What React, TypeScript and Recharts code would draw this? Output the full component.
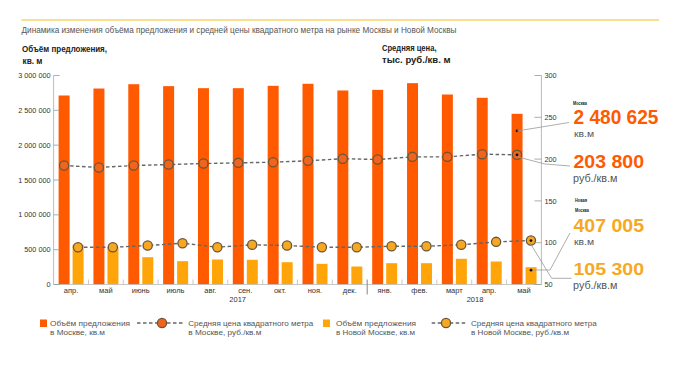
import React from 'react';
import { ComposedChart, Bar, Line, XAxis, YAxis } from 'recharts';

const months = ['апр.', 'май', 'июнь', 'июль', 'авг.', 'сен.', 'окт.', 'ноя.', 'дек.', 'янв.', 'фев.', 'март', 'апр.', 'май'];
const moscowSupply = [2713000, 2813000, 2875000, 2847000, 2818000, 2818000, 2852000, 2881000, 2785000, 2794000, 2890000, 2727000, 2680000, 2450000];
const newMoscowSupply = [570000, 540000, 392000, 335000, 359000, 355000, 320000, 297000, 258000, 306000, 306000, 369000, 330000, 248000];
const moscowPrice = [192.3, 190.0, 192.3, 193.5, 194.7, 195.5, 196.3, 198.0, 200.5, 199.5, 202.7, 202.7, 205.9, 205.1];
const newMoscowPrice = [94.6, 94.6, 96.6, 99.4, 94.6, 97.5, 96.6, 94.6, 94.6, 95.8, 95.8, 97.5, 101.0, 102.6];
const leftTicks = [0, 500000, 1000000, 1500000, 2000000, 2500000, 3000000];
const rightTicks = [50, 100, 150, 200, 250, 300];
const years = ['2017', '2018'];

const data = months.map((m, i) => ({
  m,
  i,
  ms: moscowSupply[i],
  ns: newMoscowSupply[i],
  mp: moscowPrice[i],
  np: newMoscowPrice[i],
}));

const ORANGE = '#ff5a00';
const YELLOW = '#ffa50a';
const M_DOT = '#f0641e';
const N_DOT = '#f7a823';
const DOT_STROKE = '#6b5638';
const FONT = '"Liberation Sans", Arial, sans-serif';
const LAST = data.length - 1;

const fmt = (v: number) => String(v).replace(/\B(?=(\d{3})+(?!\d))/g, ' ');

const makeDot = (fill: string) => (props: any) => {
  const { cx, cy, index } = props;
  if (cx == null || cy == null) return <g key={`e${index}`} />;
  return (
    <g key={`d${index}`}>
      <circle cx={cx} cy={cy} r={4.6} fill={fill} stroke={DOT_STROKE} strokeWidth={1.3} />
      {index === LAST && <circle cx={cx} cy={cy} r={1.4} fill="#111" />}
    </g>
  );
};

const makeBarShape = (fill: string, dotOffset: number) => (props: any) => {
  const { x, y, width, height, index } = props;
  return (
    <g>
      <rect x={x} y={y} width={width} height={height} fill={fill} />
      {index === LAST && <circle cx={x + width / 2} cy={y + dotOffset} r={1.4} fill="#111" />}
    </g>
  );
};

const LeftTick = (props: any) => {
  const { x, y, payload } = props;
  return (
    <g>
      <line x1={x + 3} x2={x + 9} y1={y} y2={y} stroke="#999" strokeWidth={0.8} />
      <text x={x} y={y} dy={2.6} textAnchor="end" fontSize={7.3} fill="#333" fontFamily={FONT}>
        {fmt(payload.value)}
      </text>
    </g>
  );
};

const RightTick = (props: any) => {
  const { x, y, payload } = props;
  return (
    <g>
      <line x1={x - 10} x2={x - 3} y1={y} y2={y} stroke="#999" strokeWidth={0.8} />
      <text x={x} y={y} dy={2.6} textAnchor="start" fontSize={7.3} fill="#333" fontFamily={FONT}>
        {payload.value}
      </text>
    </g>
  );
};

const MonthTick = (props: any) => {
  const { x, y, payload, index } = props;
  const half = payload && payload.offset ? payload.offset : 17.4;
  const idx = payload && payload.index != null ? payload.index : index;
  return (
    <g>
      {idx > 0 && (
        <line
          x1={x - half}
          x2={x - half}
          y1={y - 5}
          y2={idx === 9 ? y + 10 : y}
          stroke={idx === 9 ? '#777' : '#bbb'}
          strokeWidth={idx === 9 ? 0.9 : 0.8}
        />
      )}
      <text x={x} y={y + 8.5} textAnchor="middle" fontSize={7.5} fill="#333" fontFamily={FONT}>
        {payload.value}
      </text>
    </g>
  );
};

const T = (p: any) => <text fontFamily={FONT} {...p} />;

export default function App() {
  return (
    <div style={{ position: 'absolute', left: 0, top: 0, width: 700, height: 374, background: '#fff' }}>
      <div style={{ position: 'absolute', left: 0, top: 0 }}>
        <ComposedChart
          width={700}
          height={374}
          data={data}
          margin={{ top: 75.5, left: 3.6, right: 118.6, bottom: 69.5 }}
          barSize={11}
          barGap={3}
        >
          <XAxis
            xAxisId="cat"
            dataKey="m"
            height={20}
            tickSize={0}
            tickMargin={0}
            tickLine={false}
            interval={0}
            axisLine={{ stroke: '#bbb', strokeWidth: 0.8 }}
            tick={<MonthTick />}
          />
          <XAxis xAxisId="mline" type="number" dataKey="i" domain={[-0.3, 13.7]} allowDataOverflow hide />
          <XAxis xAxisId="nline" type="number" dataKey="i" domain={[-0.7, 13.3]} allowDataOverflow hide />
          <YAxis
            yAxisId="left"
            width={50}
            domain={[0, 3000000]}
            ticks={leftTicks}
            interval={0}
            tickSize={0}
            tickMargin={3}
            tickLine={false}
            axisLine={{ stroke: '#aaa', strokeWidth: 0.8 }}
            tick={<LeftTick />}
          />
          <YAxis
            yAxisId="right"
            orientation="right"
            width={40}
            domain={[50, 300]}
            ticks={rightTicks}
            interval={0}
            tickSize={0}
            tickMargin={3}
            tickLine={false}
            axisLine={{ stroke: '#aaa', strokeWidth: 0.8 }}
            tick={<RightTick />}
          />
          <Bar xAxisId="cat" yAxisId="left" dataKey="ms" fill={ORANGE} isAnimationActive={false} shape={makeBarShape(ORANGE, 17)} />
          <Bar xAxisId="cat" yAxisId="left" dataKey="ns" fill={YELLOW} isAnimationActive={false} shape={makeBarShape(YELLOW, 3)} />
          <Line
            xAxisId="mline"
            yAxisId="right"
            dataKey="mp"
            stroke="#666"
            strokeWidth={1.4}
            strokeDasharray="3.5 2.5"
            dot={makeDot(M_DOT)}
            isAnimationActive={false}
          />
          <Line
            xAxisId="nline"
            yAxisId="right"
            dataKey="np"
            stroke="#666"
            strokeWidth={1.4}
            strokeDasharray="3.5 2.5"
            dot={makeDot(N_DOT)}
            isAnimationActive={false}
          />
        </ComposedChart>
      </div>
      <svg width={700} height={374} style={{ position: 'absolute', left: 0, top: 0, pointerEvents: 'none' }}>
        <line x1={21.5} x2={659} y1={20} y2={20} stroke="#f7d56d" strokeWidth={1.5} />
        <T x={21.5} y={33.3} fontSize={8.3} fill="#555" textLength={435} lengthAdjust="spacingAndGlyphs">
          Динамика изменения объёма предложения и средней цены квадратного метра на рынке Москвы и Новой Москвы
        </T>
        <T x={22} y={52} fontSize={8.2} fontWeight="bold" fill="#222" textLength={85} lengthAdjust="spacingAndGlyphs">Объём предложения,</T>
        <T x={22.5} y={63.5} fontSize={8.2} fontWeight="bold" fill="#222" textLength={20} lengthAdjust="spacingAndGlyphs">кв. м</T>
        <T x={382} y={51} fontSize={8.2} fontWeight="bold" fill="#222" textLength={54.5} lengthAdjust="spacingAndGlyphs">Средняя цена,</T>
        <T x={382} y={63} fontSize={8.2} fontWeight="bold" fill="#222" textLength={68.5} lengthAdjust="spacingAndGlyphs">тыс. руб./кв. м</T>

        <T x={237.7} y={302} fontSize={7.5} fill="#333" textAnchor="middle">{years[0]}</T>
        <T x={475} y={302} fontSize={7.5} fill="#333" textAnchor="middle">{years[1]}</T>

        {/* leader lines */}
        <polyline points="517,131 569,122.5" fill="none" stroke="#999" strokeWidth={0.8} />
        <polyline points="518,157 545,164 570,166" fill="none" stroke="#999" strokeWidth={0.8} />
        <polyline points="532,270 550,270 570,233" fill="none" stroke="#999" strokeWidth={0.8} />
        <polyline points="530,243 551.7,278.3 571.7,278.3" fill="none" stroke="#999" strokeWidth={0.8} />

        {/* right annotations */}
        <T x={573} y={105} fontSize={6} fontWeight="bold" fill="#222" textLength={14} lengthAdjust="spacingAndGlyphs">Москва</T>
        <T x={573.5} y={124} fontSize={19.5} fontWeight="bold" fill={ORANGE} textLength={85} lengthAdjust="spacingAndGlyphs">2 480 625</T>
        <T x={574} y={136.5} fontSize={9} fill="#555" textLength={20} lengthAdjust="spacingAndGlyphs">кв.м</T>
        <T x={573.5} y={168.3} fontSize={18} fontWeight="bold" fill={ORANGE} textLength={70.5} lengthAdjust="spacingAndGlyphs">203 800</T>
        <T x={573} y={182} fontSize={10} fill="#555" textLength={44.5} lengthAdjust="spacingAndGlyphs">руб./кв.м</T>
        <T x={575} y={202} fontSize={6} fontWeight="bold" fill="#222" textLength={12} lengthAdjust="spacingAndGlyphs">Новая</T>
        <T x={575} y={212} fontSize={6} fontWeight="bold" fill="#222" textLength={14} lengthAdjust="spacingAndGlyphs">Москва</T>
        <T x={573.5} y={231.5} fontSize={17.5} fontWeight="bold" fill={N_DOT} textLength={70.5} lengthAdjust="spacingAndGlyphs">407 005</T>
        <T x={574} y={244.5} fontSize={9} fill="#555" textLength={20} lengthAdjust="spacingAndGlyphs">кв.м</T>
        <T x={573.5} y={275} fontSize={17} fontWeight="bold" fill={N_DOT} textLength={70.5} lengthAdjust="spacingAndGlyphs">105 300</T>
        <T x={573} y={288.5} fontSize={10} fill="#555" textLength={44.5} lengthAdjust="spacingAndGlyphs">руб./кв.м</T>

        {/* legend */}
        <rect x={40} y={319.5} width={7} height={7.5} fill={ORANGE} />
        <T x={50} y={326} fontSize={8} fill="#555" textLength={80} lengthAdjust="spacingAndGlyphs">Объём предложения</T>
        <T x={50} y={335} fontSize={8} fill="#555" textLength={55} lengthAdjust="spacingAndGlyphs">в Москве, кв.м</T>

        <line x1={137} x2={183} y1={323} y2={323} stroke="#666" strokeWidth={1.4} strokeDasharray="3.5 2.5" />
        <circle cx={162} cy={323} r={4.6} fill={M_DOT} stroke={DOT_STROKE} strokeWidth={1.3} />
        <T x={188.3} y={326} fontSize={8} fill="#555" textLength={125} lengthAdjust="spacingAndGlyphs">Средняя цена квадратного метра</T>
        <T x={188.3} y={335} fontSize={8} fill="#555" textLength={73} lengthAdjust="spacingAndGlyphs">в Москве, руб./кв.м</T>

        <rect x={323} y={319.5} width={7} height={7.5} fill={YELLOW} />
        <T x={336} y={326} fontSize={8} fill="#555" textLength={80} lengthAdjust="spacingAndGlyphs">Объём предложения</T>
        <T x={336} y={335} fontSize={8} fill="#555" textLength={79} lengthAdjust="spacingAndGlyphs">в Новой Москве, кв.м</T>

        <line x1={431.7} x2={466} y1={323} y2={323} stroke="#666" strokeWidth={1.4} strokeDasharray="3.5 2.5" />
        <circle cx={446} cy={323} r={4.6} fill={N_DOT} stroke={DOT_STROKE} strokeWidth={1.3} />
        <T x={471} y={326} fontSize={8} fill="#555" textLength={125.7} lengthAdjust="spacingAndGlyphs">Средняя цена квадратного метра</T>
        <T x={471} y={335} fontSize={8} fill="#555" textLength={98} lengthAdjust="spacingAndGlyphs">в Новой Москве, руб./кв.м</T>
      </svg>
    </div>
  );
}
